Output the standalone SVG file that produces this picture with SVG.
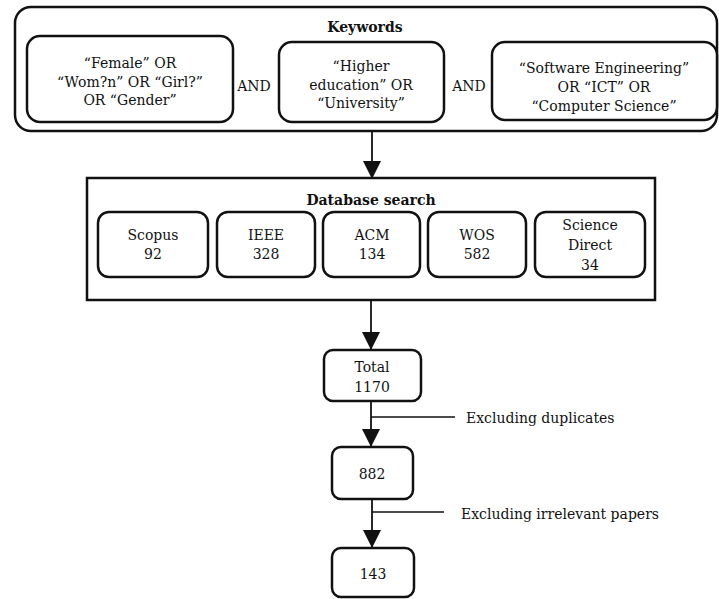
<svg xmlns="http://www.w3.org/2000/svg" width="719" height="599" viewBox="0 0 719 599">
<style>
text{font-family:'DejaVu Serif','Liberation Serif',serif;font-size:14px;fill:#111;text-anchor:middle}
.b{font-weight:bold}
.l{text-anchor:start}
.box{fill:#fff;stroke:#111;stroke-width:2.5}
.line{stroke:#111;stroke-width:1.8;fill:none}
.thin{stroke:#111;stroke-width:1.3;fill:none}
</style>
<defs>
<marker id="ah2" markerWidth="18" markerHeight="18" refX="17" refY="9" orient="auto" markerUnits="userSpaceOnUse" viewBox="0 0 18 18">
<path d="M0,0 L18,9 L0,18 z" fill="#111"/>
</marker>
</defs>
<g id="keywords">
<rect class="box" x="15" y="7" width="702" height="124" rx="16"/>
<text class="b" x="365" y="32">Keywords</text>
</g>
<g id="kw1">
<rect class="box" x="27" y="36" width="206" height="86" rx="13"/>
<text x="130" y="68">“Female” OR</text>
<text x="130" y="87">“Wom?n” OR “Girl?”</text>
<text x="130" y="105">OR “Gender”</text>
</g>
<text x="254" y="91">AND</text>
<g id="kw2">
<rect class="box" x="279" y="42" width="165" height="80" rx="13"/>
<text x="361" y="71">“Higher</text>
<text x="361" y="90">education” OR</text>
<text x="361" y="108">“University”</text>
</g>
<text x="469" y="91">AND</text>
<g id="kw3">
<rect class="box" x="492" y="42" width="225" height="78" rx="13"/>
<text x="604" y="73">“Software Engineering”</text>
<text x="604" y="92">OR “ICT” OR</text>
<text x="604" y="111">“Computer Science”</text>
</g>
<g id="database">
<rect class="box" x="87" y="178" width="568" height="122" rx="0"/>
<text class="b" x="371" y="205">Database search</text>
</g>
<g id="scopus">
<rect class="box" x="98" y="212" width="110" height="65" rx="11"/>
<text x="153" y="240">Scopus</text>
<text x="153" y="259">92</text>
</g>
<g id="ieee">
<rect class="box" x="217" y="212" width="98" height="65" rx="11"/>
<text x="266" y="240">IEEE</text>
<text x="266" y="259">328</text>
</g>
<g id="acm">
<rect class="box" x="323" y="212" width="97" height="65" rx="11"/>
<text x="372" y="240">ACM</text>
<text x="372" y="259">134</text>
</g>
<g id="wos">
<rect class="box" x="428" y="212" width="98" height="65" rx="11"/>
<text x="477" y="240">WOS</text>
<text x="477" y="259">582</text>
</g>
<g id="sciencedirect">
<rect class="box" x="535" y="212" width="110" height="65" rx="11"/>
<text x="590" y="230">Science</text>
<text x="590" y="250">Direct</text>
<text x="590" y="270">34</text>
</g>
<g id="total">
<rect class="box" x="324" y="350" width="97" height="51" rx="9"/>
<text x="372" y="372">Total</text>
<text x="372" y="392">1170</text>
</g>
<g id="n882">
<rect class="box" x="332" y="447" width="81" height="52" rx="9"/>
<text x="372" y="479">882</text>
</g>
<g id="n143">
<rect class="box" x="332" y="548" width="82" height="49" rx="9"/>
<text x="373" y="579">143</text>
</g>
<g id="connectors">
<line class="line" x1="372" y1="131" x2="372" y2="178" marker-end="url(#ah2)"/>
<line class="line" x1="371" y1="300" x2="371" y2="349" marker-end="url(#ah2)"/>
<line class="line" x1="371" y1="401" x2="371" y2="446" marker-end="url(#ah2)"/>
<line class="line" x1="372" y1="499" x2="372" y2="547" marker-end="url(#ah2)"/>
<line class="thin" x1="371" y1="417" x2="455" y2="417"/>
<line class="thin" x1="372" y1="512" x2="444" y2="512"/>
</g>
<text class="l" x="466" y="423">Excluding duplicates</text>
<text class="l" x="461" y="519">Excluding irrelevant papers</text>
</svg>
